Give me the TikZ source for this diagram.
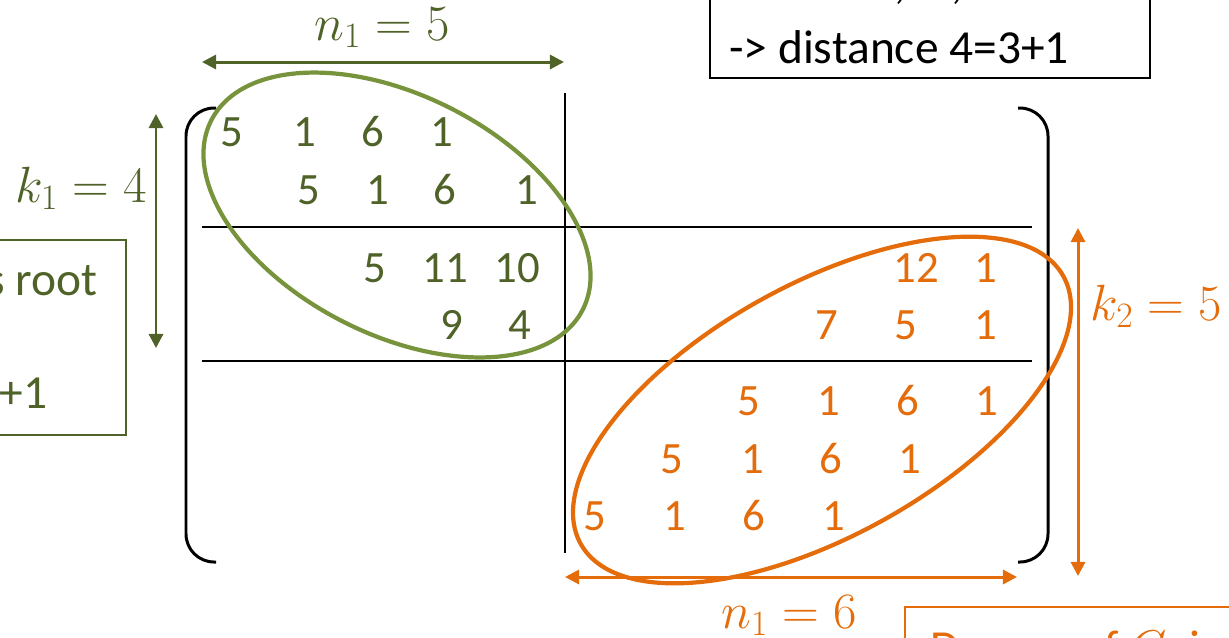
\RequirePackage{fix-cm}
\documentclass[tikz,border=0pt]{standalone}
\usepackage{fontspec}
\setmainfont{Carlito}
\usetikzlibrary{arrows.meta}
\definecolor{olivedark}{HTML}{4F6228}
\definecolor{olivelight}{HTML}{77933C}
\definecolor{pumpkin}{HTML}{E46C0A}
\begin{document}
\begin{tikzpicture}[x=0.02cm, y=-0.02cm,
  entry/.style={font=\fontsize{25.5}{30}\selectfont, inner sep=0pt},
  gent/.style={entry, text=olivedark},
  oent/.style={entry, text=pumpkin},
  dim/.style={line width=1.7pt, {Triangle[length=8pt,width=8pt]}-{Triangle[length=8pt,width=8pt]}},
  lbl/.style={font=\fontsize{29}{34}\selectfont, inner sep=0pt},
  txt/.style={font=\fontsize{27}{32}\selectfont, inner sep=0pt}]
\useasboundingbox (0,0) rectangle (1229,637);
\clip (0,0) rectangle (1229,637);
% brackets and partition lines
\draw[line width=1.7pt, rounded corners=16pt] (216,108) -- (186,108) -- (186,562) -- (216,562);
\draw[line width=1.7pt, rounded corners=16pt] (1018,108) -- (1048,108) -- (1048,562) -- (1018,562);
\draw[line width=1pt] (565,93) -- (565,553);
\draw[line width=1pt] (202,227) -- (1032,227);
\draw[line width=1pt] (202,361) -- (1032,361);
% upper block
\node[gent] (a11) at (232,132) {5};
\node[gent] (a12) at (305,132) {1};
\node[gent] (a13) at (373,132) {6};
\node[gent] (a14) at (442,132) {1};
\node[gent] (a21) at (309,190) {5};
\node[gent] (a22) at (378,190) {1};
\node[gent] (a23) at (445,190) {6};
\node[gent] (a24) at (527,190) {1};
\node[gent] (a31) at (375,268) {5};
\node[gent] (a32) at (445,268) {11};
\node[gent] (a33) at (517,268) {10};
\node[gent] (a41) at (452,325) {9};
\node[gent] (a42) at (520,325) {4};
% lower block
\node[oent] (b31) at (916,268) {12};
\node[oent] (b32) at (986,268) {1};
\node[oent] (b41) at (827,325) {7};
\node[oent] (b42) at (906,325) {5};
\node[oent] (b43) at (986,325) {1};
\node[oent] (b51) at (749,401) {5};
\node[oent] (b52) at (829,401) {1};
\node[oent] (b53) at (908,401) {6};
\node[oent] (b54) at (987,401) {1};
\node[oent] (b61) at (672,459) {5};
\node[oent] (b62) at (753,459) {1};
\node[oent] (b63) at (831,459) {6};
\node[oent] (b64) at (910,459) {1};
\node[oent] (b71) at (595,516) {5};
\node[oent] (b72) at (675,516) {1};
\node[oent] (b73) at (754,516) {6};
\node[oent] (b74) at (834,516) {1};
% ellipses
\draw[olivelight, line width=2.4pt, rotate around={-27:(397,215)}] (397,215) ellipse [x radius=4.17cm, y radius=2.39cm];
\draw[pumpkin, line width=2.4pt, rotate around={29:(822,410)}] (822,410) ellipse [x radius=5.52cm, y radius=2.52cm];
% dimensions
\coordinate (n1l) at (202,62);
\coordinate (n1r) at (564,62);
\coordinate (k1t) at (156,114);
\coordinate (k1b) at (156,348);
\coordinate (k2t) at (1078,228);
\coordinate (k2b) at (1078,576);
\coordinate (n2l) at (565,577);
\coordinate (n2r) at (1017,577);
\draw[dim, olivedark] (n1l) -- (n1r);
\draw[dim, olivedark] (k1t) -- (k1b);
\draw[dim, pumpkin] (k2t) -- (k2b);
\draw[dim, pumpkin] (n2l) -- (n2r);
\node[lbl, text=olivedark, anchor=base] (n1lbl) at (382,40) {$n_1 = 5$};
\node[lbl, text=olivedark, anchor=base east] (k1lbl) at (147,202) {$k_1 = 4$};
\node[lbl, text=pumpkin, anchor=base west] (k2lbl) at (1090,320) {$k_2 = 5$};
\node[lbl, text=pumpkin, anchor=base] (n2lbl) at (789,628) {$n_1 = 6$};
% side boxes
\draw[line width=1pt] (710,-20) rectangle (1150,78);
\node[txt, anchor=base west] (dline) at (729,63) {-> distance 4=3+1};
\node[txt, anchor=base west] (cline) at (894,-2) {,\hspace{0.95em},};
\draw[olivedark, line width=0.9pt] (-20,240) rectangle (126,435);
\node[txt, text=olivedark, anchor=base east] (rline) at (98,295) {is root};
\node[txt, text=olivedark, anchor=base east] (pline) at (48,408) {3+1};
\draw[pumpkin, line width=1.2pt] (905,607) rectangle (1260,690);
\node[txt, text=pumpkin, anchor=base west] (gline) at (930,663) {Degree of $C_2$ is};
\end{tikzpicture}
\end{document}
